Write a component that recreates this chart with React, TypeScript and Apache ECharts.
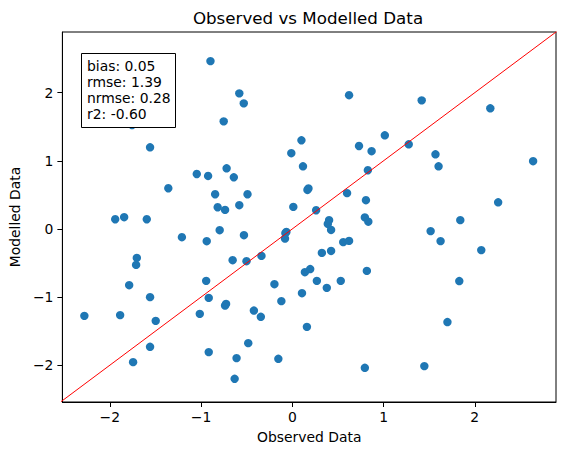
import React, { useEffect, useRef } from "react";
import * as echarts from "echarts";

const observed = [
  -0.897, -0.581, -0.532, -0.752, -1.756, -1.559, -1.047, -0.923, -1.359, -0.72,
  -0.641, -0.846, -0.491, -0.818, -0.737, -0.581, -1.941, -1.843, -1.595, -1.21,
  -0.938, -0.796, -0.53, -1.704, -1.712, -1.788, -1.559, -2.279, -1.887, -1.497,
  -1.559, -1.745, -0.944, -0.916, -0.737, -0.726, -1.014, -0.916, -0.654, -0.502,
  -0.338, -0.076, -0.065, -0.08, -0.421, -0.345, -0.196, -0.12, -0.483, -0.611,
  -0.632, -0.153, 0.106, 0.16, 0.138, 0.196, 0.269, 0.378, 0.531, 0.324,
  0.425, 0.403, 0.389, 0.425, 0.558, 0.622, 0.795, 0.833, 0.817, 0.795,
  0.261, 0.622, 1.014, 0.731, 0.869, 0.828, 0.1, -0.011, 0.117, 0.166,
  0.177, 0.011, 0.6, 0.807, 1.418, 2.17, 1.276, 1.569, 1.603, 2.639,
  2.256, 1.841, 1.516, 1.625, 2.071, 1.83, 1.7, 1.447,
];
const modelled = [
  2.463, 1.99, 1.843, 1.579, 1.525, 1.198, 0.806, 0.777, 0.597, 0.89,
  0.758, 0.509, 0.509, 0.318, 0.279, 0.348, 0.142, 0.172, 0.142, -0.122,
  -0.18, -0.019, -0.092, -0.425, -0.528, -0.826, -1.001, -1.276, -1.265, -1.349,
  -1.73, -1.955, -0.762, -1.012, -1.125, -1.1, -1.246, -1.808, -0.459, -0.474,
  -0.396, -0.063, -0.044, -0.142, -1.198, -1.29, -0.811, -1.06, -1.676, -1.896,
  -2.199, -1.906, -0.943, -1.437, -0.635, -0.589, -0.762, -0.865, -0.762, -0.352,
  -0.323, 0.128, 0.073, -0.015, -0.194, -0.176, 0.169, 0.106, -0.616, -2.038,
  0.274, 1.962, 1.374, 1.217, 1.141, 0.861, 1.301, 1.111, 0.919, 0.572,
  0.594, 0.323, 0.525, 0.421, 1.887, 1.77, 1.242, 1.095, 0.919, 0.994,
  0.391, 0.129, -0.032, -0.179, -0.311, -0.765, -1.367, -2.013,
];
const xLimits = [-2.52, 2.89];
const yLimits = [-2.54, 2.89];
const xTicks = [-2, -1, 0, 1, 2];
const yTicks = [-2, -1, 0, 1, 2];
const statLabels = ["bias: 0.05", "rmse: 1.39", "nrmse: 0.28", "r2: -0.60"];
const titleText = "Observed vs Modelled Data";
const xName = "Observed Data";
const yName = "Modelled Data";

const FONT = "DejaVu Sans";
const fmt = (v: number) => String(v).replace("-", "\u2212");

export default function App() {
  const ref = useRef<HTMLDivElement>(null);
  useEffect(() => {
    if (!ref.current) return;
    const chart = echarts.init(ref.current, null, { renderer: "svg" });
    const points = observed.map((x, i) => [x, modelled[i]]);
    const lo = Math.min(xLimits[0], yLimits[0]);
    const hi = Math.max(xLimits[1], yLimits[1]);
    chart.setOption({
      animation: false,
      backgroundColor: "#ffffff",
      textStyle: { fontFamily: FONT },
      grid: {
        left: 60,
        top: 32,
        width: 496,
        height: 370,
        show: true,
        borderColor: "#000",
        borderWidth: 1,
        backgroundColor: "transparent",
        containLabel: false,
      },
      xAxis: {
        type: "value",
        min: xLimits[0],
        max: xLimits[1],
        name: xName,
        nameLocation: "middle",
        nameGap: 28,
        nameTextStyle: { fontFamily: FONT, fontSize: 13.9, color: "#000", verticalAlign: "top" },
        axisLine: { show: true, onZero: false, lineStyle: { color: "#000", width: 1 } },
        splitLine: { show: false },
        axisTick: {
          show: true,
          inside: false,
          length: 5,
          lineStyle: { color: "#000", width: 1 },
          customValues: xTicks,
        },
        axisLabel: {
          show: true,
          margin: 8,
          fontFamily: FONT,
          fontSize: 13.9,
          color: "#000",
          customValues: xTicks,
          formatter: (v: number) => fmt(v),
        },
      },
      yAxis: {
        type: "value",
        min: yLimits[0],
        max: yLimits[1],
        name: yName,
        nameLocation: "middle",
        nameGap: 36,
        nameRotate: 90,
        nameTextStyle: { fontFamily: FONT, fontSize: 13.9, color: "#000" },
        axisLine: { show: true, onZero: false, lineStyle: { color: "#000", width: 1 } },
        splitLine: { show: false },
        axisTick: {
          show: true,
          inside: false,
          length: 5,
          lineStyle: { color: "#000", width: 1 },
          customValues: yTicks,
        },
        axisLabel: {
          show: true,
          margin: 9,
          fontFamily: FONT,
          fontSize: 13.9,
          color: "#000",
          customValues: yTicks,
          formatter: (v: number) => fmt(v),
        },
      },
      series: [
        {
          type: "scatter",
          data: points,
          symbol: "circle",
          symbolSize: 8.4,
          itemStyle: { color: "#1f77b4", opacity: 1 },
          z: 2,
        },
        {
          type: "line",
          data: [
            [lo - 0.1, lo - 0.1],
            [hi + 0.1, hi + 0.1],
          ],
          symbol: "none",
          clip: true,
          lineStyle: { color: "#ff0000", width: 1 },
          z: 3,
        },
      ],
      graphic: [
        {
          type: "text",
          x: 308,
          y: 18,
          z: 10,
          style: {
            text: titleText,
            font: `16.7px "${FONT}"`,
            fill: "#000",
            align: "center",
            verticalAlign: "middle",
          },
        },
        {
          type: "rect",
          z: 10,
          shape: { x: 81.5, y: 53.5, width: 94, height: 74 },
          style: { fill: "#fff", stroke: "#000", lineWidth: 1 },
        },
        {
          type: "text",
          x: 87,
          y: 57.5,
          z: 11,
          style: {
            text: statLabels.join("\n"),
            font: `13.9px "${FONT}"`,
            lineHeight: 16,
            fill: "#000",
            align: "left",
            verticalAlign: "top",
          },
        },
      ],
    });
    return () => chart.dispose();
  }, []);
  return (
    <div
      ref={ref}
      style={{ position: "absolute", left: 0, top: 0, width: 565, height: 455 }}
    />
  );
}
